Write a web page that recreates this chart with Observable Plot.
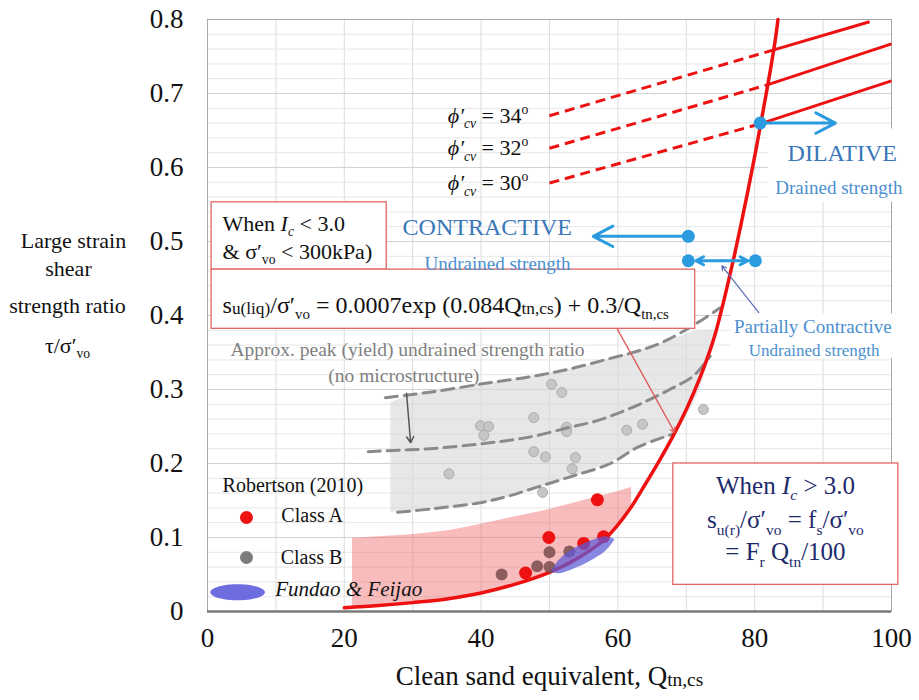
<!DOCTYPE html>
<html><head><meta charset="utf-8">
<script src="https://cdn.jsdelivr.net/npm/d3@7"></script>
<script src="https://cdn.jsdelivr.net/npm/@observablehq/plot@0.6"></script>
<style>body{margin:0;background:#fff;} svg{display:block}</style>
</head><body><div id="chart"></div>
<script>
// ---- axes / ticks ----
const xTicks = [0, 20, 40, 60, 80, 100];
const yTicks = [0, 0.1, 0.2, 0.3, 0.4, 0.5, 0.6, 0.7, 0.8];
const xGrid = [10, 20, 30, 40, 50, 60, 70, 80, 90];
const yGridMinor = [0.02,0.04,0.06,0.08,0.12,0.14,0.16,0.18,0.22,0.24,0.26,0.28,0.32,0.34,0.36,0.38,0.42,0.44,0.46,0.48,0.52,0.54,0.56,0.58,0.62,0.64,0.66,0.68,0.72,0.74,0.76,0.78];
const yGridMajor = [0.1, 0.2, 0.3, 0.4, 0.5, 0.6, 0.7];

// ---- main residual strength curve ----
const curveQ = [20,25,30,35,40,45,50,53,56,58,60,62,64,66,68,70,72,74,75,76,77,78,79,80,81,82,83,83.4];
const curveR = [0.005,0.008,0.012,0.017,0.025,0.037,0.053,0.066,0.083,0.097,0.117,0.142,0.172,0.203,0.236,0.273,0.316,0.368,0.402,0.44,0.48,0.523,0.568,0.615,0.665,0.716,0.772,0.8];

// ---- friction-angle lines ----
const phiNames = ["34", "32", "30"];
const phiStartQ = [50, 50, 50];
const phiStartR = [0.670, 0.626, 0.579];
const phiCrossQ = [82.8, 81.95, 80.8];
const phiCrossR = [0.759, 0.712, 0.659];
const phiEndQ = [96.8, 100, 100];
const phiEndR = [0.797, 0.767, 0.717];

// ---- peak strength band (grey) ----
const bandQ  = [26.8,30,35,40,45,50,55,60,64,68.1,71,73,74.2];
const bandLo = [0.134,0.136,0.140,0.146,0.157,0.172,0.187,0.206,0.226,0.24,0.28,0.33,0.375];
const bandHi = [0.282,0.293,0.300,0.307,0.314,0.322,0.331,0.344,0.355,0.368,0.378,0.38,0.38];
const upperQ = [26,33,40.4,47,52.6,58.9,63.3,67,71.6,74.9];
const upperR = [0.289,0.297,0.308,0.317,0.327,0.342,0.353,0.366,0.39,0.41];
const midQ = [23.5,28,32.6,40.4,47.2,53,57,61.4,65,68,71,73.5];
const midR = [0.216,0.218,0.220,0.227,0.236,0.249,0.258,0.273,0.288,0.302,0.318,0.345];
const lowQ = [27.8,33,39.9,44,48.2,53,58.9,62.9,68.1];
const lowR = [0.134,0.139,0.147,0.156,0.168,0.182,0.2,0.222,0.24];

// ---- pink band ----
const pinkQ  = [21.2,25,30,35,40,45,50,55,60,62];
const pinkLo = [0.006,0.008,0.012,0.017,0.025,0.037,0.053,0.077,0.117,0.142];
const pinkHi = [0.099,0.101,0.104,0.109,0.118,0.128,0.138,0.150,0.162,0.168];

// ---- Fundao & Feijao ----
const fundaoQ  = [50.2,51.5,53.5,56,58.2,59.6];
const fundaoLo = [0.053,0.051,0.057,0.068,0.081,0.097];
const fundaoHi = [0.053,0.070,0.084,0.095,0.101,0.097];

// ---- case histories ----
const classAQ = [57.0,49.9,55.0,57.9,46.5];
const classAR = [0.151,0.100,0.092,0.101,0.052];
const classBQ = [43.0,48.2,50.0,50.0,52.9];
const classBR = [0.050,0.061,0.060,0.080,0.081];
const peakQ = [50.3,51.8,47.7,39.9,41.1,40.4,52.5,52.5,61.3,63.6,72.5,47.7,49.4,53.8,53.3,49.0,35.3];
const peakR = [0.307,0.296,0.262,0.251,0.250,0.238,0.249,0.243,0.245,0.253,0.273,0.216,0.209,0.208,0.193,0.161,0.186];

const pairs = (a, b) => a.map((v, i) => [v, b[i]]);
const band = (q, lo, hi) => q.map((v, i) => ({x: v, lo: lo[i], hi: hi[i]}));

const blue = "#2b9be0", blueText = "#3a77bb", red = "#ee1111", boxRed = "#e06666", navy = "#1c2a6b";
const ellipseSymbol = {draw(ctx, size){const r=Math.sqrt(size/Math.PI), rx=r*3.4, ry=r;
  for(let i=0;i<=48;i++){const a=i/48*2*Math.PI, px=rx*Math.cos(a), py=ry*Math.sin(a); i?ctx.lineTo(px,py):ctx.moveTo(px,py);} ctx.closePath();}};

const phiLines = phiNames.map((n,i)=>({n, x1:phiStartQ[i], y1:phiStartR[i], x2:phiCrossQ[i], y2:phiCrossR[i], x3:phiEndQ[i], y3:phiEndR[i]}));

const marks = [
  Plot.ruleX(xGrid, {stroke: "#dcdcdc", strokeWidth: 1}),
  Plot.ruleY(yGridMinor, {stroke: "#e6e6e6", strokeWidth: 1}),
  Plot.ruleY(yGridMajor, {stroke: "#d2d2d2", strokeWidth: 1.2}),
  Plot.frame({stroke: "#a8a8a8"}),
  Plot.ruleY([0], {stroke: "#7a7a7a", strokeWidth: 2.5}),
  // white backgrounds behind labels
  Plot.rect([{x1: 82, x2: 102, y1: 0.553, y2: 0.652}, {x1: 76.5, x2: 101.5, y1: 0.342, y2: 0.402}], {x1:"x1", x2:"x2", y1:"y1", y2:"y2", fill: "white"}),
  // bands
  Plot.areaY(band(bandQ, bandLo, bandHi), {x: "x", y1: "lo", y2: "hi", fill: "#d8d8d8", fillOpacity: 0.62, curve: "catmull-rom"}),
  Plot.areaY(band(pinkQ, pinkLo, pinkHi), {x: "x", y1: "lo", y2: "hi", fill: "#f26a6a", fillOpacity: 0.45, curve: "catmull-rom"}),
  // peak points
  Plot.dot(pairs(peakQ, peakR), {r: 5, fill: "#c6c6c6", stroke: "#acacac", strokeWidth: 1}),
  // grey dashed curves
  Plot.line(pairs(upperQ, upperR), {stroke: "#8a8a8a", strokeWidth: 3, strokeDasharray: "12,7", curve: "catmull-rom"}),
  Plot.line(pairs(midQ, midR), {stroke: "#8a8a8a", strokeWidth: 3, strokeDasharray: "12,7", curve: "catmull-rom"}),
  Plot.line(pairs(lowQ, lowR), {stroke: "#8a8a8a", strokeWidth: 3, strokeDasharray: "12,7", curve: "catmull-rom"}),
  Plot.arrow([{x1: 29.1, y1: 0.295, x2: 29.7, y2: 0.228}], {x1:"x1", y1:"y1", x2:"x2", y2:"y2", stroke: "#555", strokeWidth: 1.5, headLength: 7}),
  // phi lines
  Plot.link(phiLines, {x1:"x1", y1:"y1", x2:"x2", y2:"y2", stroke: red, strokeWidth: 3, strokeDasharray: "10,6"}),
  Plot.link(phiLines, {x1:"x2", y1:"y2", x2:"x3", y2:"y3", stroke: red, strokeWidth: 3}),
  // main curve
  Plot.line(pairs(curveQ, curveR), {stroke: red, strokeWidth: 3.5, curve: "catmull-rom"}),
  // case history points
  Plot.dot(pairs(classBQ, classBR), {r: 6, fill: "#7a4b4b", fillOpacity: 0.85}),
  Plot.dot(pairs(classAQ, classAR), {r: 6.5, fill: red}),
  Plot.areaY(band(fundaoQ, fundaoLo, fundaoHi), {x: "x", y1: "lo", y2: "hi", fill: "#5a5ad8", fillOpacity: 0.72, curve: "catmull-rom"}),
  // red pointer from formula box
  Plot.arrow([{x1: 59.9, y1: 0.382, x2: 68.3, y2: 0.242}], {x1:"x1", y1:"y1", x2:"x2", y2:"y2", stroke: "#e05a5a", strokeWidth: 1.3, headLength: 6}),
  // blue arrows
  Plot.arrow([{x1: 80.8, y1: 0.66, x2: 91.8, y2: 0.66}, {x1: 70.3, y1: 0.507, x2: 56.4, y2: 0.507},
              {x1: 75.2, y1: 0.474, x2: 71.4, y2: 0.474}, {x1: 75.2, y1: 0.474, x2: 79.0, y2: 0.474}],
             {x1:"x1", y1:"y1", x2:"x2", y2:"y2", stroke: blue, strokeWidth: 3, headLength: 11, headAngle: 55}),
  Plot.arrow([{x1: 80.6, y1: 0.404, x2: 75.2, y2: 0.467}], {x1:"x1", y1:"y1", x2:"x2", y2:"y2", stroke: "#5a6fb8", strokeWidth: 1.2, headLength: 6}),
  Plot.dot([[80.8, 0.66], [70.3, 0.507], [70.3, 0.474], [80.1, 0.474]], {r: 6.5, fill: blue}),
  // boxes
  Plot.rect([{x1: 0.6, x2: 26.2, y1: 0.462, y2: 0.553}, {x1: 0.6, x2: 71.3, y1: 0.382, y2: 0.462}, {x1: 68.1, x2: 101.0, y1: 0.036, y2: 0.2}],
            {x1:"x1", x2:"x2", y1:"y1", y2:"y2", fill: "white", stroke: boxRed, strokeWidth: 1.3}),
  // box texts
  Plot.text(["When *{I}_*{c} < 3.0"], {x: 2.2, y: 0.524, textAnchor: "start", fontSize: 22, fill: "#111"}),
  Plot.text(["& σ′_{vo} < 300kPa)"], {x: 2.2, y: 0.486, textAnchor: "start", fontSize: 22, fill: "#111"}),
  Plot.text(["s~{u(liq)}/σ′_{vo} = 0.0007exp (0.084Q~{tn,cs}) + 0.3/Q_{tn,cs}"], {x: 2.2, y: 0.414, textAnchor: "start", fontSize: 24, fill: "#111"}),
  Plot.text(["When *{I}_*{c} > 3.0"], {x: 84.5, y: 0.170, fontSize: 25, fill: navy}),
  Plot.text(["s_{u(r)}/σ′_{vo} = f_{s}/σ′_{vo}"], {x: 84.5, y: 0.123, fontSize: 25, fill: navy}),
  Plot.text(["= F_{r} Q_{tn}/100"], {x: 84.5, y: 0.080, fontSize: 25, fill: navy}),
  // phi labels
  Plot.text(phiLines, {x: () => 46.9, y: "y1", text: d => `*{ϕ′}_*{cv} = ${d.n}^{o}`, textAnchor: "end", fontSize: 22, fill: "#111"}),
  // blue labels
  Plot.text(["DILATIVE"], {x: 92.8, y: 0.619, fontSize: 24, fill: blueText}),
  Plot.text(["Drained strength"], {x: 92.3, y: 0.573, fontSize: 19, fill: "#4a8fd0"}),
  Plot.text(["CONTRACTIVE"], {x: 40.9, y: 0.519, fontSize: 24, fill: blueText}),
  Plot.text(["Undrained strength"], {x: 42.4, y: 0.470, fontSize: 19, fill: "#4a8fd0"}),
  Plot.text(["Partially Contractive"], {x: 88.5, y: 0.385, fontSize: 19, fill: "#4a8fd0"}),
  Plot.text(["Undrained strength"], {x: 88.7, y: 0.352, fontSize: 17, fill: "#4a8fd0"}),
  // grey band labels
  Plot.text(["Approx. peak (yield) undrained strength ratio"], {x: 3.36, y: 0.354, textAnchor: "start", fontSize: 19.5, fill: "#808080"}),
  Plot.text(["(no microstructure)"], {x: 28.7, y: 0.319, fontSize: 19.5, fill: "#808080"}),
  // legend
  Plot.text(["Robertson (2010)"], {x: 2.2, y: 0.170, textAnchor: "start", fontSize: 20, fill: "#111"}),
  Plot.dot([[5.7, 0.127]], {r: 6.5, fill: red}),
  Plot.text(["Class A"], {x: 10.8, y: 0.129, textAnchor: "start", fontSize: 20, fill: "#111"}),
  Plot.dot([[5.7, 0.073]], {r: 6.5, fill: "#7c7c7c"}),
  Plot.text(["Class B"], {x: 10.7, y: 0.073, textAnchor: "start", fontSize: 20, fill: "#111"}),
  Plot.dot([[4.4, 0.026]], {r: 8, symbol: ellipseSymbol, fill: "#6d6de0"}),
  Plot.text(["Fundao & Feijao"], {x: 9.9, y: 0.030, textAnchor: "start", fontSize: 21, fontStyle: "italic", fill: "#111"}),
  // axis tick labels
  Plot.text(xTicks, {x: d => d, frameAnchor: "bottom", dy: 35, fontSize: 27, text: d => String(d), fill: "#111"}),
  Plot.text(yTicks, {y: d => d, frameAnchor: "left", dx: -24, textAnchor: "end", fontSize: 27, text: d => String(d), fill: "#111"}),
  // axis titles
  Plot.text(["Clean sand equivalent, Q~{tn,cs}"], {x: 50, frameAnchor: "bottom", dy: 73, fontSize: 27, fill: "#111"}),
  Plot.text(["Large strain"], {y: 0.501, frameAnchor: "left", dx: -134, textAnchor: "middle", fontSize: 22, fill: "#111"}),
  Plot.text(["shear"], {y: 0.4635, frameAnchor: "left", dx: -139, textAnchor: "middle", fontSize: 22, fill: "#111"}),
  Plot.text(["strength ratio"], {y: 0.4135, frameAnchor: "left", dx: -140, textAnchor: "middle", fontSize: 22, fill: "#111"}),
  Plot.text(["τ/σ′_{vo}"], {y: 0.359, frameAnchor: "left", dx: -140, textAnchor: "middle", fontSize: 22, fill: "#111"})
];

const svg = Plot.plot({
  width: 919, height: 700,
  marginLeft: 207, marginRight: 28, marginTop: 19, marginBottom: 89,
  style: {fontFamily: "'Liberation Serif', 'Times New Roman', serif", background: "white"},
  x: {domain: [0, 100], axis: null},
  y: {domain: [0, 0.8], axis: null},
  marks
});
document.getElementById("chart").appendChild(svg);

// rich text: _{sub} ^{sup} ~{small} *{italic}
(function richify(root){
  const NS = "http://www.w3.org/2000/svg";
  root.querySelectorAll("text").forEach(t => {
    const src = t.textContent;
    if (!/[_^~*]+\{/.test(src)) return;
    const fs = parseFloat(getComputedStyle(t).fontSize) || 16;
    while (t.firstChild) t.removeChild(t.firstChild);
    let shift = 0;
    const add = (str, kind) => {
      if (!str) return;
      const ts = document.createElementNS(NS, "tspan");
      let target = 0;
      if (kind.includes("_")) { target = 0.25 * fs; ts.setAttribute("font-size", 0.62 * fs); }
      else if (kind.includes("^")) { target = -0.42 * fs; ts.setAttribute("font-size", 0.62 * fs); }
      else if (kind.includes("~")) { target = 0.06 * fs; ts.setAttribute("font-size", 0.72 * fs); }
      if (kind.includes("*")) ts.setAttribute("font-style", "italic");
      if (target !== shift) { ts.setAttribute("dy", target - shift); shift = target; }
      ts.textContent = str; t.appendChild(ts);
    };
    const re = /([_^~*]+)\{([^}]*)\}/g; let m, last = 0;
    while ((m = re.exec(src))) { add(src.slice(last, m.index), ""); add(m[2], m[1]); last = re.lastIndex; }
    add(src.slice(last), "");
  });
})(svg);
</script></body></html>
